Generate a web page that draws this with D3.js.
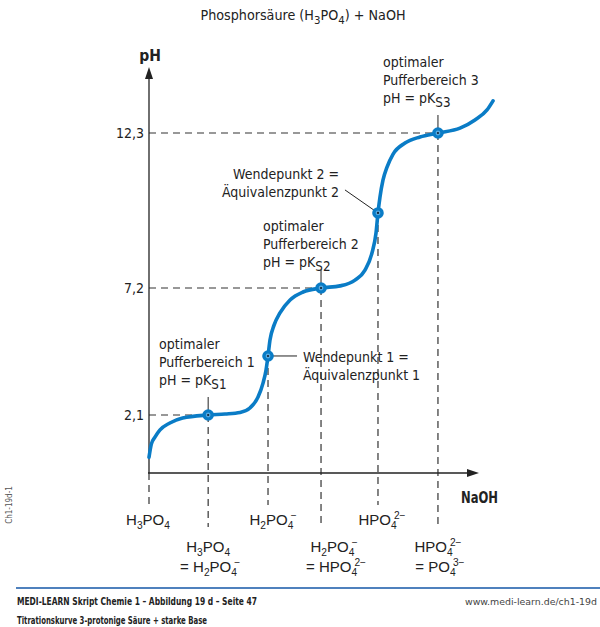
<!DOCTYPE html>
<html>
<head>
<meta charset="utf-8">
<script src="https://cdn.jsdelivr.net/npm/d3@7"></script>
<style>
  body { margin: 0; background: #fff; }
</style>
</head>
<body>
<svg id="chart"></svg>
<script>
// Titration curve: NaOH added (equivalents) vs pH
const naohEq = [0, 0.02, 0.05, 0.095, 0.18, 0.29, 0.51, 0.655, 0.785, 0.87, 0.94, 0.983, 1.009, 1.026,
  1.043, 1.078, 1.129, 1.216, 1.328, 1.483, 1.647, 1.776, 1.862, 1.922, 1.957, 1.974, 1.991, 2.017,
  2.052, 2.103, 2.207, 2.336, 2.491, 2.681, 2.81, 2.914, 2.966];
const phValues = [0.4, 0.93, 1.2, 1.5, 1.78, 1.98, 2.1, 2.14, 2.2, 2.38, 2.82, 3.38, 3.91, 4.47,
  5.11, 5.71, 6.2, 6.72, 7.04, 7.2, 7.27, 7.46, 7.79, 8.35, 9.01, 9.67, 10.19, 10.75,
  11.18, 11.6, 11.97, 12.17, 12.3, 12.46, 12.73, 13.06, 13.36];

// marked points on the curve (pKs values and equivalence points)
const markEq = [0.51, 1.026, 1.483, 1.974, 2.491];
const markPh = [2.1, 4.47, 7.2, 9.67, 12.3];
const markKind = ["pks", "wp", "pks", "wp", "pks"];

const phTicks = [2.1, 7.2, 12.3];

// species labels under the x axis
const speciesTopEq = [0, 1.026, 1.974];
const speciesTop = ["H_{3}PO_{4}", "H_{2}PO_{4}^{−}", "HPO_{4}^{2−}"];
const speciesBottomEq = [0.51, 1.483, 2.491];
const speciesBottom = [
  ["H_{3}PO_{4}", "= H_{2}PO_{4}^{−}"],
  ["H_{2}PO_{4}^{−}", "= HPO_{4}^{2−}"],
  ["HPO_{4}^{2−}", "= PO_{4}^{3−}"]
];

const width = 600, height = 627;
const narrow = "'Liberation Sans Narrow', 'DejaVu Sans Condensed', 'Arial Narrow', sans-serif";
const plain = "'Liberation Sans', Arial, sans-serif";
const curveColor = "#0a7cc6";
const ink = "#222";

const svg = d3.select("#chart").attr("width", width).attr("height", height)
  .style("font-family", narrow);

// scales: the figure is schematic, so pH is piecewise linear between the marked levels
const x = d3.scaleLinear().domain([0, 3]).range([149, 497]);
const y = d3.scaleLinear().domain([2.1, 7.2, 12.3]).range([415, 288, 133]);

const axisY = 473, axisXEnd = 479, axisYTop = 67;

// text with _{sub} and ^{sup} parts
function richText(g, tx, ty, str, size, anchor, opts) {
  opts = opts || {};
  const subScale = opts.subScale || 0.68, subDrop = opts.subDrop || 0.26;
  const t = g.append("text").attr("x", tx).attr("y", ty)
    .attr("font-size", size).attr("text-anchor", anchor || "start");
  const parts = str.split(/(_\{[^}]*\}|\^\{[^}]*\})/).filter(s => s);
  let shift = 0, lastSub = null;
  parts.forEach(p => {
    const kind = p[0] === "_" ? "sub" : p[0] === "^" ? "sup" : "n";
    const txt = kind === "n" ? p : p.slice(2, -1);
    const target = kind === "sub" ? size * subDrop : kind === "sup" ? -size * 0.38 : 0;
    const ts = t.append("tspan").text(txt).attr("dy", target - shift);
    if (kind !== "n") ts.attr("font-size", size * subScale);
    if (kind === "sup" && lastSub) ts.attr("dx", -lastSub.node().getComputedTextLength() + 3);
    lastSub = kind === "sub" ? ts : null;
    shift = target;
  });
  return t;
}

// dashed guides
const guides = svg.append("g").attr("stroke", "#333").attr("stroke-width", 1.2)
  .attr("stroke-dasharray", "7,5");

markEq.forEach((e, i) => {
  const bottom = markKind[i] === "pks" ? 527 : 505;
  guides.append("line").attr("x1", x(e)).attr("x2", x(e))
    .attr("y1", y(markPh[i])).attr("y2", bottom);
  if (markKind[i] === "pks") {
    guides.append("line").attr("x1", x(0)).attr("x2", x(e))
      .attr("y1", y(markPh[i])).attr("y2", y(markPh[i]));
  }
});
guides.append("line").attr("x1", x(0)).attr("x2", x(0)).attr("y1", axisY).attr("y2", 504);

// axes
const axes = svg.append("g").attr("stroke", ink).attr("stroke-width", 1.3);
axes.append("line").attr("x1", x(0)).attr("x2", x(0)).attr("y1", axisY).attr("y2", axisYTop + 8);
axes.append("line").attr("x1", x(0) - 1).attr("x2", axisXEnd - 8).attr("y1", axisY).attr("y2", axisY);
svg.append("path").attr("fill", ink)
  .attr("d", `M${x(0)},${axisYTop} L${x(0) + 4},${axisYTop + 12} L${x(0) - 4},${axisYTop + 12} Z`);
svg.append("path").attr("fill", ink)
  .attr("d", `M${axisXEnd},${axisY} L${axisXEnd - 12},${axisY - 4} L${axisXEnd - 12},${axisY + 4} Z`);

const yAxis = svg.append("g").attr("transform", `translate(${x(0)},0)`)
  .call(d3.axisLeft(y).tickValues(phTicks).tickSize(0).tickPadding(5)
    .tickFormat(d => String(d).replace(".", ",")));
yAxis.select(".domain").remove();
yAxis.selectAll("text").attr("font-family", narrow).attr("font-size", 14).attr("fill", ink)
  .attr("dy", "0.35em");

svg.append("text").attr("x", x(0) + 1).attr("y", 61).attr("text-anchor", "middle")
  .attr("font-size", 15.5).attr("font-weight", "bold").attr("fill", ink).text("pH");
svg.append("text").attr("x", 498).attr("y", 503).attr("text-anchor", "end")
  .attr("font-size", 15).attr("font-weight", "bold").attr("fill", ink)
  .attr("textLength", 37).attr("lengthAdjust", "spacingAndGlyphs").text("NaOH");

// curve
const line = d3.line().x((d, i) => x(naohEq[i])).y(d => y(d)).curve(d3.curveMonotoneX);
svg.append("path").datum(phValues).attr("d", line)
  .attr("fill", "none").attr("stroke", curveColor).attr("stroke-width", 3.6)
  .attr("stroke-linecap", "round");

// leader lines
const leaders = svg.append("g").attr("stroke", ink).attr("stroke-width", 1);
markEq.forEach((e, i) => {
  const mx = x(e), my = y(markPh[i]);
  if (markKind[i] === "pks") {
    leaders.append("line").attr("x1", mx).attr("x2", mx).attr("y1", my - 18).attr("y2", my);
  }
});
leaders.append("line").attr("x1", x(markEq[1]) + 3).attr("x2", x(markEq[1]) + 29)
  .attr("y1", y(markPh[1])).attr("y2", y(markPh[1]));
leaders.append("line").attr("x1", x(markEq[3]) - 33).attr("x2", x(markEq[3]))
  .attr("y1", y(markPh[3]) - 23).attr("y2", y(markPh[3]));

// markers
const marks = svg.append("g");
markEq.forEach((e, i) => {
  marks.append("circle").attr("cx", x(e)).attr("cy", y(markPh[i])).attr("r", 5.8).attr("fill", curveColor);
  marks.append("circle").attr("cx", x(e)).attr("cy", y(markPh[i])).attr("r", 2.4).attr("fill", "#58a9e0");
  marks.append("circle").attr("cx", x(e)).attr("cy", y(markPh[i])).attr("r", 1.1).attr("fill", "#123");
});

// annotations
const noteSize = 14;
const notes = svg.append("g").attr("fill", ink);
function pufferNote(tx, ty, n) {
  notes.append("text").attr("x", tx).attr("y", ty).attr("font-size", noteSize).text("optimaler");
  notes.append("text").attr("x", tx).attr("y", ty + 18).attr("font-size", noteSize).text("Pufferbereich " + n);
  richText(notes, tx, ty + 36, "pH = pK_{S" + n + "}", noteSize, "start", { subScale: 0.95, subDrop: 0.3 });
}
pufferNote(383, 67, 3);
pufferNote(263, 231, 2);
pufferNote(159, 349, 1);

notes.append("text").attr("x", 339).attr("y", 179).attr("font-size", noteSize).attr("text-anchor", "end")
  .text("Wendepunkt 2 =");
notes.append("text").attr("x", 339).attr("y", 197).attr("font-size", noteSize).attr("text-anchor", "end")
  .text("Äquivalenzpunkt 2");
notes.append("text").attr("x", 303).attr("y", 362).attr("font-size", noteSize).text("Wendepunkt 1 =");
notes.append("text").attr("x", 303).attr("y", 380).attr("font-size", noteSize).text("Äquivalenzpunkt 1");

// title
richText(svg.append("g").attr("fill", ink), 303, 20, "Phosphorsäure (H_{3}PO_{4}) + NaOH", 14.2, "middle",
  { subScale: 0.8, subDrop: 0.3 });

// species labels
const species = svg.append("g").attr("fill", ink).style("font-family", plain);
const topDx = [-1, 5, 4];
speciesTop.forEach((s, i) => {
  richText(species, x(speciesTopEq[i]) + topDx[i], 525, s, 15, "middle");
});
const botDx = [[0, 2], [13, 15], [0, 2]];
speciesBottom.forEach((pair, i) => {
  richText(species, x(speciesBottomEq[i]) + botDx[i][0], 552, pair[0], 15, "middle");
  richText(species, x(speciesBottomEq[i]) + botDx[i][1], 572, pair[1], 15, "middle");
});

// footer
svg.append("line").attr("x1", 16).attr("x2", 600).attr("y1", 588).attr("y2", 588)
  .attr("stroke", "#4f81bd").attr("stroke-width", 2.2);
svg.append("text").attr("x", 17).attr("y", 605).attr("font-size", 10.5).attr("font-weight", "bold")
  .attr("fill", ink).attr("textLength", 240).attr("lengthAdjust", "spacingAndGlyphs")
  .text("MEDI-LEARN Skript Chemie 1 – Abbildung 19 d – Seite 47");
svg.append("text").attr("x", 17).attr("y", 624).attr("font-size", 10.5).attr("font-weight", "bold")
  .attr("fill", ink).attr("textLength", 190).attr("lengthAdjust", "spacingAndGlyphs")
  .text("Titrationskurve 3-protonige Säure + starke Base");
svg.append("text").attr("x", 597).attr("y", 605).attr("font-size", 9.5).attr("text-anchor", "end")
  .attr("fill", "#444").attr("textLength", 132).attr("lengthAdjust", "spacingAndGlyphs")
  .text("www.medi-learn.de/ch1-19d");
svg.append("text").attr("transform", "translate(12,505) rotate(-90)").attr("text-anchor", "middle")
  .attr("font-size", 8).attr("fill", "#555").text("Ch1-19d-1");
</script>
</body>
</html>
